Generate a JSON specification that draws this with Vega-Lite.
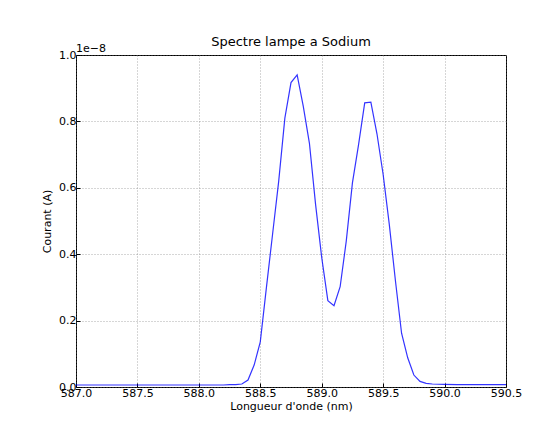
{
  "$schema": "https://vega.github.io/schema/vega-lite/v6.json",
  "autosize": "none",
  "width": 430,
  "height": 332,
  "padding": {"left": 76, "top": 55, "right": 44, "bottom": 37},
  "background": "white",
  "config": {
    "font": "DejaVu Sans",
    "view": {"stroke": "black", "strokeWidth": 1},
    "axis": {
      "labelFont": "DejaVu Sans",
      "titleFont": "DejaVu Sans",
      "labelFontSize": 11,
      "titleFontSize": 11,
      "titleFontWeight": "normal",
      "labelColor": "black",
      "titleColor": "black",
      "domain": false,
      "tickColor": "black",
      "tickSize": -4,
      "grid": true,
      "gridColor": "#777777",
      "gridDash": [1, 2],
      "gridWidth": 0.6,
      "labelOverlap": false,
      "labelBound": false,
      "labelFlush": false
    }
  },
  "title": {
    "text": "Spectre lampe a Sodium",
    "font": "DejaVu Sans",
    "fontSize": 13,
    "fontWeight": "normal",
    "color": "black",
    "offset": -6
  },
  "data": {
    "values": [
      {"lambda": 587.0, "courant": 0.006},
      {"lambda": 587.1, "courant": 0.006},
      {"lambda": 587.2, "courant": 0.006},
      {"lambda": 587.3, "courant": 0.006},
      {"lambda": 587.4, "courant": 0.006},
      {"lambda": 587.5, "courant": 0.006},
      {"lambda": 587.6, "courant": 0.006},
      {"lambda": 587.7, "courant": 0.006},
      {"lambda": 587.8, "courant": 0.006},
      {"lambda": 587.9, "courant": 0.006},
      {"lambda": 588.0, "courant": 0.006},
      {"lambda": 588.1, "courant": 0.006},
      {"lambda": 588.2, "courant": 0.006},
      {"lambda": 588.25, "courant": 0.007},
      {"lambda": 588.3, "courant": 0.007},
      {"lambda": 588.35, "courant": 0.009},
      {"lambda": 588.4, "courant": 0.021},
      {"lambda": 588.45, "courant": 0.066},
      {"lambda": 588.5, "courant": 0.136},
      {"lambda": 588.55, "courant": 0.3},
      {"lambda": 588.6, "courant": 0.46},
      {"lambda": 588.65, "courant": 0.62},
      {"lambda": 588.7, "courant": 0.81},
      {"lambda": 588.75, "courant": 0.917},
      {"lambda": 588.8, "courant": 0.94},
      {"lambda": 588.85, "courant": 0.845},
      {"lambda": 588.9, "courant": 0.734},
      {"lambda": 588.95, "courant": 0.55},
      {"lambda": 589.0, "courant": 0.39},
      {"lambda": 589.05, "courant": 0.26},
      {"lambda": 589.1, "courant": 0.245},
      {"lambda": 589.15, "courant": 0.302},
      {"lambda": 589.2, "courant": 0.44},
      {"lambda": 589.25, "courant": 0.615},
      {"lambda": 589.3, "courant": 0.73},
      {"lambda": 589.35, "courant": 0.856},
      {"lambda": 589.4, "courant": 0.858},
      {"lambda": 589.45, "courant": 0.762},
      {"lambda": 589.5, "courant": 0.64},
      {"lambda": 589.55, "courant": 0.49},
      {"lambda": 589.6, "courant": 0.32},
      {"lambda": 589.65, "courant": 0.162},
      {"lambda": 589.7, "courant": 0.088},
      {"lambda": 589.75, "courant": 0.036},
      {"lambda": 589.8, "courant": 0.017},
      {"lambda": 589.85, "courant": 0.011},
      {"lambda": 589.9, "courant": 0.009},
      {"lambda": 590.0, "courant": 0.008},
      {"lambda": 590.1, "courant": 0.007},
      {"lambda": 590.2, "courant": 0.007},
      {"lambda": 590.3, "courant": 0.007},
      {"lambda": 590.4, "courant": 0.007},
      {"lambda": 590.5, "courant": 0.007}
    ]
  },
  "layer": [
    {
      "mark": {"type": "line", "color": "#0000ff", "strokeWidth": 1.2, "opacity": 0.8},
      "encoding": {
        "x": {
          "field": "lambda",
          "type": "quantitative",
          "scale": {"domain": [587.0, 590.5], "nice": false, "zero": false},
          "axis": {"title": "Longueur d'onde (nm)", "values": [587.0, 587.5, 588.0, 588.5, 589.0, 589.5, 590.0, 590.5], "format": ".1f", "labelPadding": 4, "titlePadding": 2}
        },
        "y": {
          "field": "courant",
          "type": "quantitative",
          "scale": {"domain": [0, 1], "nice": false},
          "axis": {"title": "Courant (A)", "values": [0, 0.2, 0.4, 0.6, 0.8, 1.0], "format": ".1f", "labelPadding": 4, "titlePadding": 6}
        }
      }
    },
    {
      "data": {"values": [{"label": "1e\u22128"}]},
      "mark": {"type": "text", "align": "left", "baseline": "bottom", "dy": -1, "fontSize": 11, "font": "DejaVu Sans", "color": "black"},
      "encoding": {
        "text": {"field": "label"},
        "x": {"datum": 587.0, "type": "quantitative"},
        "y": {"datum": 1.0, "type": "quantitative"}
      }
    }
  ]
}
